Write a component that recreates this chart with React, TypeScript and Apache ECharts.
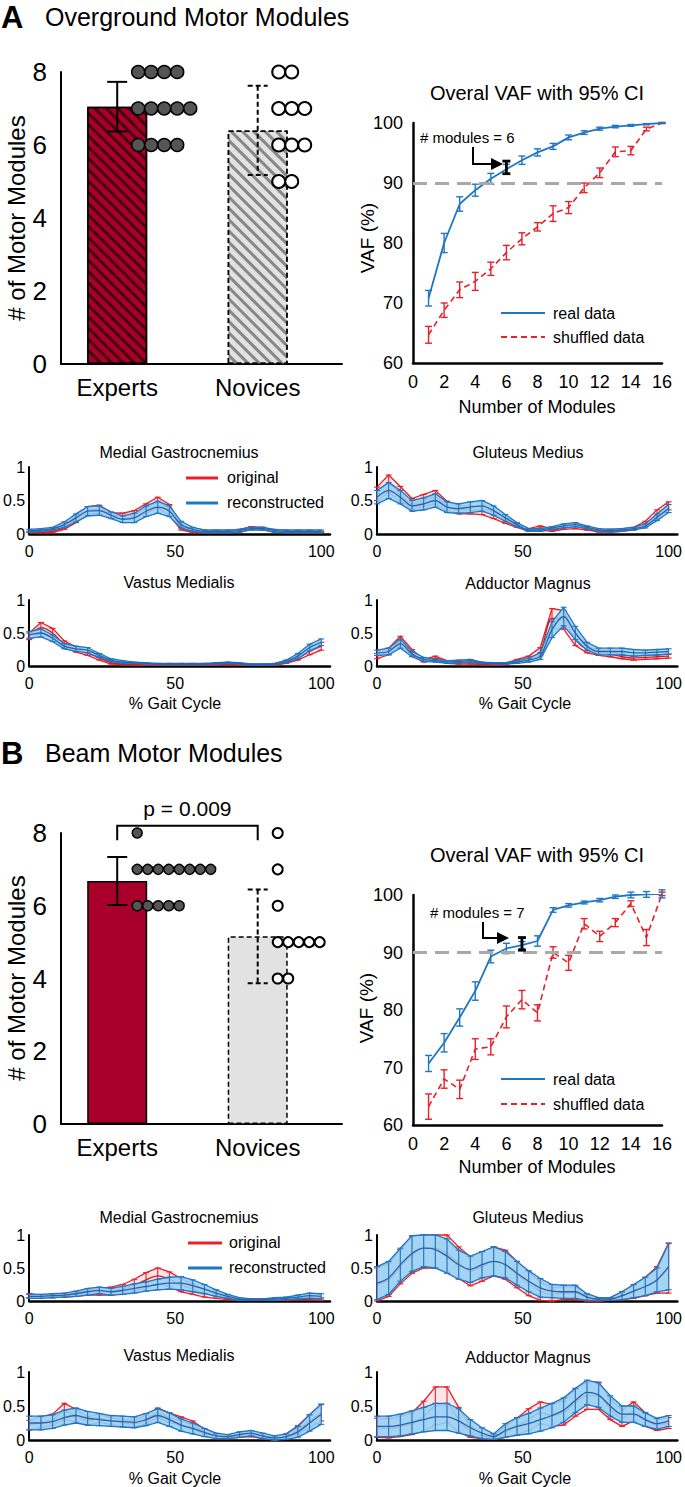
import React, { useEffect, useRef } from 'react';
import * as echarts from 'echarts';

const FONT = '"Liberation Sans", Arial, Helvetica, sans-serif';
const RED = '#e8202a';
const BLUE = '#1f77c4';
const CRIMSON = '#a8002a';

// ---------------- data ----------------
const groups = ['Experts', 'Novices'];
const groupPos = [1, 2];

const overgroundMean = [7.05, 6.4];
const overgroundErr = [0.68, 1.22];
const overgroundExperts = [8, 8, 8, 8, 7, 7, 7, 7, 7, 6, 6, 6, 6];
const overgroundNovices = [8, 8, 7, 7, 7, 6, 6, 6, 5, 5];

const beamMean = [6.68, 5.16];
const beamErr = [0.66, 1.29];
const beamExperts = [8, 7, 7, 7, 7, 7, 7, 7, 7, 6, 6, 6, 6, 6];
const beamNovices = [8, 7, 6, 5, 5, 5, 5, 5, 4, 4];
const beamPLabel = 'p = 0.009';

const moduleCounts = [1, 2, 3, 4, 5, 6, 7, 8, 9, 10, 11, 12, 13, 14, 15, 16];

const overgroundReal = [70.8, 80.0, 86.5, 88.8, 90.7, 92.3, 93.8, 95.1, 96.1, 97.6, 98.4, 99.05, 99.4, 99.6, 99.8, 100];
const overgroundRealCi = [1.3, 1.6, 1.2, 1.0, 0.9, 0.8, 0.7, 0.6, 0.5, 0.4, 0.3, 0.25, 0.2, 0.15, 0.1, 0.05];
const overgroundShuffled = [64.7, 68.8, 72.2, 73.6, 75.7, 78.4, 80.7, 82.7, 84.9, 85.9, 89.2, 91.7, 95.2, 95.4, 99.0, 100];
const overgroundShuffledCi = [1.4, 1.2, 1.3, 1.5, 1.1, 1.2, 1.0, 0.7, 1.3, 1.0, 0.8, 0.8, 0.8, 0.7, 0.3, 0.1];
const overgroundChosen = [6, 92.6, 1.05];

const beamReal = [70.7, 74.3, 78.7, 83.3, 89.3, 90.7, 91.3, 92.0, 97.4, 98.2, 98.7, 99.1, 99.7, 100.0, 100.1, 100.2];
const beamRealCi = [1.4, 1.6, 1.5, 1.6, 1.1, 0.9, 0.6, 0.9, 0.4, 0.3, 0.25, 0.3, 0.3, 0.5, 0.5, 0.7];
const beamShuffled = [63.2, 68.0, 66.2, 73.2, 73.6, 78.8, 81.8, 79.5, 90.0, 88.2, 95.0, 92.8, 95.2, 98.5, 92.6, 100.2];
const beamShuffledCi = [2.2, 1.6, 1.6, 1.8, 1.4, 1.9, 1.6, 1.4, 1.0, 1.3, 0.9, 0.9, 0.7, 0.5, 1.4, 0.3];
const beamChosen = [7, 91.5, 1.1];

const gaitPct = [0, 4, 8, 12, 16, 20, 24, 28, 32, 36, 40, 44, 48, 52, 56, 60, 64, 68, 72, 76, 80, 84, 88, 92, 96, 100];

// Overground
const ogMGOrig = [0.03, 0.03, 0.04, 0.10, 0.22, 0.35, 0.37, 0.28, 0.27, 0.30, 0.38, 0.47, 0.36, 0.10, 0.04, 0.03, 0.03, 0.03, 0.05, 0.09, 0.08, 0.04, 0.03, 0.03, 0.03, 0.03];
const ogMGOrigErr = [0.01, 0.01, 0.02, 0.03, 0.05, 0.06, 0.06, 0.04, 0.04, 0.05, 0.07, 0.08, 0.08, 0.04, 0.02, 0.01, 0.01, 0.01, 0.02, 0.02, 0.02, 0.01, 0.01, 0.01, 0.01, 0.01];
const ogMGRec = [0.05, 0.06, 0.08, 0.14, 0.24, 0.34, 0.35, 0.28, 0.22, 0.24, 0.34, 0.40, 0.34, 0.14, 0.07, 0.04, 0.04, 0.04, 0.05, 0.08, 0.08, 0.05, 0.04, 0.04, 0.04, 0.04];
const ogMGRecErr = [0.02, 0.02, 0.02, 0.04, 0.06, 0.07, 0.07, 0.05, 0.05, 0.07, 0.08, 0.09, 0.08, 0.05, 0.03, 0.02, 0.02, 0.02, 0.02, 0.02, 0.02, 0.02, 0.02, 0.02, 0.02, 0.02];

const ogGMOrig = [0.60, 0.75, 0.60, 0.45, 0.50, 0.55, 0.42, 0.36, 0.36, 0.35, 0.28, 0.20, 0.13, 0.06, 0.09, 0.06, 0.09, 0.11, 0.08, 0.05, 0.05, 0.06, 0.08, 0.15, 0.30, 0.42];
const ogGMOrigErr = [0.10, 0.13, 0.11, 0.08, 0.09, 0.10, 0.07, 0.06, 0.06, 0.06, 0.05, 0.04, 0.03, 0.02, 0.03, 0.02, 0.02, 0.03, 0.02, 0.02, 0.02, 0.02, 0.02, 0.04, 0.06, 0.06];
const ogGMRec = [0.55, 0.65, 0.55, 0.42, 0.45, 0.50, 0.40, 0.38, 0.40, 0.42, 0.35, 0.24, 0.14, 0.06, 0.06, 0.09, 0.12, 0.14, 0.10, 0.06, 0.05, 0.06, 0.08, 0.12, 0.25, 0.38];
const ogGMRecErr = [0.10, 0.12, 0.10, 0.08, 0.09, 0.10, 0.08, 0.07, 0.08, 0.08, 0.07, 0.05, 0.03, 0.02, 0.02, 0.02, 0.03, 0.03, 0.02, 0.02, 0.02, 0.02, 0.02, 0.03, 0.05, 0.06];

const ogVMOrig = [0.45, 0.58, 0.50, 0.33, 0.25, 0.20, 0.12, 0.05, 0.03, 0.02, 0.02, 0.02, 0.02, 0.02, 0.02, 0.02, 0.02, 0.03, 0.02, 0.02, 0.02, 0.02, 0.06, 0.12, 0.22, 0.30];
const ogVMOrigErr = [0.05, 0.08, 0.07, 0.05, 0.04, 0.04, 0.03, 0.02, 0.01, 0.01, 0.01, 0.01, 0.01, 0.01, 0.01, 0.01, 0.01, 0.01, 0.01, 0.01, 0.01, 0.01, 0.02, 0.03, 0.05, 0.06];
const ogVMRec = [0.47, 0.50, 0.42, 0.30, 0.26, 0.24, 0.16, 0.09, 0.06, 0.05, 0.04, 0.03, 0.03, 0.03, 0.03, 0.03, 0.04, 0.05, 0.04, 0.02, 0.02, 0.03, 0.07, 0.15, 0.28, 0.36];
const ogVMRecErr = [0.05, 0.06, 0.05, 0.04, 0.04, 0.04, 0.03, 0.02, 0.02, 0.01, 0.01, 0.01, 0.01, 0.01, 0.01, 0.01, 0.01, 0.01, 0.01, 0.01, 0.01, 0.01, 0.02, 0.04, 0.05, 0.05];

const ogAMOrig = [0.15, 0.22, 0.38, 0.20, 0.08, 0.12, 0.06, 0.05, 0.05, 0.03, 0.02, 0.03, 0.08, 0.12, 0.22, 0.72, 0.70, 0.40, 0.25, 0.20, 0.18, 0.14, 0.12, 0.13, 0.14, 0.15];
const ogAMOrigErr = [0.04, 0.05, 0.07, 0.05, 0.02, 0.03, 0.02, 0.02, 0.02, 0.01, 0.01, 0.01, 0.02, 0.03, 0.06, 0.15, 0.14, 0.09, 0.05, 0.04, 0.04, 0.03, 0.03, 0.03, 0.03, 0.03];
const ogAMRec = [0.20, 0.22, 0.34, 0.18, 0.10, 0.08, 0.06, 0.07, 0.08, 0.05, 0.04, 0.04, 0.06, 0.09, 0.15, 0.55, 0.75, 0.50, 0.30, 0.22, 0.22, 0.22, 0.20, 0.20, 0.21, 0.22];
const ogAMRecErr = [0.04, 0.05, 0.07, 0.04, 0.03, 0.02, 0.02, 0.02, 0.02, 0.01, 0.01, 0.01, 0.02, 0.03, 0.05, 0.12, 0.14, 0.10, 0.06, 0.05, 0.05, 0.05, 0.05, 0.04, 0.04, 0.04];

// Beam
const bmMGOrig = [0.08, 0.07, 0.07, 0.08, 0.10, 0.13, 0.14, 0.15, 0.18, 0.24, 0.32, 0.38, 0.33, 0.24, 0.18, 0.12, 0.08, 0.04, 0.02, 0.02, 0.02, 0.02, 0.02, 0.03, 0.04, 0.03];
const bmMGOrigErr = [0.03, 0.02, 0.02, 0.02, 0.03, 0.04, 0.05, 0.06, 0.07, 0.09, 0.11, 0.12, 0.11, 0.10, 0.08, 0.06, 0.04, 0.02, 0.01, 0.01, 0.01, 0.01, 0.01, 0.01, 0.02, 0.02];
const bmMGRec = [0.07, 0.07, 0.08, 0.09, 0.11, 0.14, 0.16, 0.14, 0.16, 0.19, 0.22, 0.25, 0.27, 0.27, 0.23, 0.18, 0.12, 0.07, 0.03, 0.02, 0.02, 0.03, 0.04, 0.06, 0.08, 0.07];
const bmMGRecErr = [0.03, 0.03, 0.03, 0.03, 0.04, 0.05, 0.05, 0.05, 0.06, 0.07, 0.07, 0.08, 0.09, 0.10, 0.09, 0.07, 0.05, 0.03, 0.02, 0.01, 0.01, 0.02, 0.02, 0.03, 0.04, 0.04];

const bmGMOrig = [0.25, 0.32, 0.52, 0.70, 0.80, 0.80, 0.72, 0.58, 0.45, 0.52, 0.60, 0.55, 0.40, 0.26, 0.15, 0.10, 0.12, 0.12, 0.05, 0.02, 0.03, 0.08, 0.14, 0.22, 0.32, 0.50];
const bmGMOrigErr = [0.25, 0.25, 0.26, 0.28, 0.30, 0.30, 0.28, 0.24, 0.22, 0.22, 0.22, 0.22, 0.20, 0.18, 0.14, 0.10, 0.10, 0.10, 0.05, 0.02, 0.02, 0.06, 0.10, 0.14, 0.20, 0.38];
const bmGMRec = [0.27, 0.35, 0.55, 0.72, 0.80, 0.78, 0.68, 0.55, 0.48, 0.55, 0.60, 0.55, 0.42, 0.30, 0.20, 0.15, 0.14, 0.14, 0.06, 0.03, 0.03, 0.08, 0.15, 0.22, 0.32, 0.52];
const bmGMRecErr = [0.25, 0.25, 0.25, 0.27, 0.28, 0.28, 0.26, 0.22, 0.20, 0.20, 0.22, 0.20, 0.18, 0.16, 0.14, 0.10, 0.10, 0.10, 0.05, 0.02, 0.02, 0.06, 0.10, 0.14, 0.18, 0.35];

const bmVMOrig = [0.22, 0.26, 0.30, 0.42, 0.36, 0.28, 0.32, 0.28, 0.25, 0.24, 0.30, 0.40, 0.33, 0.28, 0.22, 0.12, 0.06, 0.04, 0.06, 0.07, 0.04, 0.02, 0.06, 0.15, 0.28, 0.40];
const bmVMOrigErr = [0.07, 0.08, 0.08, 0.12, 0.09, 0.06, 0.06, 0.05, 0.05, 0.05, 0.06, 0.07, 0.07, 0.06, 0.06, 0.04, 0.03, 0.02, 0.02, 0.02, 0.02, 0.02, 0.03, 0.06, 0.09, 0.12];
const bmVMRec = [0.25, 0.25, 0.27, 0.33, 0.36, 0.32, 0.30, 0.28, 0.27, 0.26, 0.30, 0.36, 0.30, 0.22, 0.17, 0.11, 0.06, 0.05, 0.08, 0.10, 0.06, 0.03, 0.05, 0.12, 0.25, 0.38];
const bmVMRecErr = [0.10, 0.10, 0.10, 0.11, 0.11, 0.10, 0.09, 0.08, 0.08, 0.08, 0.09, 0.10, 0.10, 0.09, 0.08, 0.06, 0.04, 0.03, 0.04, 0.04, 0.04, 0.03, 0.04, 0.08, 0.12, 0.15];

const bmAMOrig = [0.18, 0.17, 0.20, 0.24, 0.35, 0.50, 0.52, 0.30, 0.12, 0.06, 0.04, 0.12, 0.20, 0.30, 0.40, 0.36, 0.40, 0.55, 0.65, 0.65, 0.45, 0.32, 0.42, 0.30, 0.22, 0.25];
const bmAMOrigErr = [0.14, 0.14, 0.15, 0.16, 0.22, 0.28, 0.26, 0.18, 0.08, 0.04, 0.03, 0.08, 0.12, 0.16, 0.16, 0.16, 0.18, 0.20, 0.20, 0.20, 0.15, 0.12, 0.14, 0.10, 0.08, 0.08];
const bmAMRec = [0.20, 0.20, 0.22, 0.26, 0.30, 0.34, 0.34, 0.28, 0.18, 0.10, 0.05, 0.14, 0.20, 0.24, 0.30, 0.36, 0.44, 0.58, 0.70, 0.66, 0.50, 0.38, 0.38, 0.30, 0.24, 0.28];
const bmAMRecErr = [0.15, 0.15, 0.16, 0.17, 0.18, 0.20, 0.20, 0.18, 0.12, 0.08, 0.04, 0.10, 0.13, 0.15, 0.17, 0.18, 0.18, 0.18, 0.18, 0.18, 0.15, 0.12, 0.12, 0.10, 0.08, 0.08];

// ---------------- layout ----------------
type Box = { left: number; top: number; width: number; height: number };
const LAYOUT: Box[] = [
  { left: 61, top: 72, width: 281, height: 292 },
  { left: 413, top: 123, width: 249, height: 240 },
  { left: 29, top: 467, width: 301, height: 67 },
  { left: 377, top: 467, width: 303, height: 67 },
  { left: 29, top: 600, width: 301, height: 66 },
  { left: 377, top: 600, width: 303, height: 66 },
  { left: 61, top: 833, width: 281, height: 291 },
  { left: 413, top: 895, width: 249, height: 230 },
  { left: 29, top: 1235, width: 301, height: 66 },
  { left: 377, top: 1235, width: 303, height: 66 },
  { left: 29, top: 1372, width: 301, height: 68 },
  { left: 377, top: 1372, width: 303, height: 68 },
];

const txt = { color: '#000', fontFamily: FONT };

function errorBarShapes(t: number[], b: number[], half: number, style: any) {
  return [
    { type: 'line', shape: { x1: t[0], y1: t[1], x2: b[0], y2: b[1] }, style },
    { type: 'line', shape: { x1: t[0] - half, y1: t[1], x2: t[0] + half, y2: t[1] }, style },
    { type: 'line', shape: { x1: b[0] - half, y1: b[1], x2: b[0] + half, y2: b[1] }, style },
  ];
}

function barAxes(i: number) {
  return {
    x: {
      type: 'value', gridIndex: i, min: 0.6, max: 2.6,
      axisLine: { show: true, onZero: false, lineStyle: { color: '#000', width: 2 } },
      axisTick: { show: false }, splitLine: { show: false },
      axisLabel: {
        ...txt, fontSize: 24, margin: 11, customValues: groupPos,
        formatter: (v: number) => {
          const k = groupPos.findIndex((p) => Math.abs(p - v) < 1e-6);
          return k >= 0 ? groups[k] : '';
        },
      },
    },
    y: {
      type: 'value', gridIndex: i, min: 0, max: 8, interval: 2,
      axisLine: { show: true, lineStyle: { color: '#000', width: 2 } },
      axisTick: { show: false }, splitLine: { show: false },
      axisLabel: { ...txt, fontSize: 26, margin: 14 },
    },
  };
}

function vafAxes(i: number) {
  return {
    x: {
      type: 'value', gridIndex: i, min: 0, max: 16, interval: 2,
      axisLine: { show: true, onZero: false, lineStyle: { color: '#000', width: 2.5 } },
      axisTick: { show: false }, splitLine: { show: false },
      axisLabel: { ...txt, fontSize: 18, margin: 10 },
    },
    y: {
      type: 'value', gridIndex: i, min: 60, max: 100, interval: 10,
      axisLine: { show: true, lineStyle: { color: '#000', width: 2.5 } },
      axisTick: { show: false }, splitLine: { show: false },
      axisLabel: { ...txt, fontSize: 18, margin: 10 },
    },
  };
}

function gaitAxes(i: number) {
  return {
    x: {
      type: 'value', gridIndex: i, min: 0, max: 103, interval: 50,
      axisLine: { show: true, onZero: false, lineStyle: { color: '#000', width: 2.5 } },
      axisTick: { show: false }, splitLine: { show: false },
      axisLabel: { ...txt, fontSize: 16, margin: 9, formatter: (v: number) => (v % 50 === 0 ? String(v) : '') },
    },
    y: {
      type: 'value', gridIndex: i, min: 0, max: 1, interval: 0.5,
      axisLine: { show: true, lineStyle: { color: '#000', width: 2 } },
      axisTick: { show: false }, splitLine: { show: false },
      axisLabel: { ...txt, fontSize: 16, margin: 4 },
    },
  };
}

function dotItems(values: number[], g: number) {
  const seen: Record<number, number> = {};
  return values.map((v) => {
    const r = seen[v] ?? 0;
    seen[v] = r + 1;
    return [groupPos[g], v, r, g];
  });
}

function barSeries(ax: number, means: number[], errs: number[], experts: number[], novices: number[], hatched: boolean, dotSize: number, spacing: number, offset: number) {
  const expStyle: any = { color: CRIMSON, borderColor: '#000', borderWidth: 1.5 };
  const novStyle: any = { color: '#e2e2e2', borderColor: '#000', borderWidth: 1.5, borderType: [5, 3] };
  if (hatched) {
    expStyle.decal = { symbol: 'rect', symbolSize: 1, color: 'rgba(55,0,12,0.85)', dashArrayX: [1, 0], dashArrayY: [3, 5], rotation: Math.PI / 4 };
    novStyle.decal = { symbol: 'rect', symbolSize: 1, color: 'rgba(125,125,125,0.9)', dashArrayX: [1, 0], dashArrayY: [3, 5], rotation: Math.PI / 4 };
  }
  return [
    { type: 'bar', xAxisIndex: ax, yAxisIndex: ax, barWidth: 60, barGap: '-100%', data: [[groupPos[0], means[0]]], itemStyle: expStyle, z: 2 },
    { type: 'bar', xAxisIndex: ax, yAxisIndex: ax, barWidth: 60, barGap: '-100%', data: [[groupPos[1], means[1]]], itemStyle: novStyle, z: 2 },
    {
      type: 'custom', xAxisIndex: ax, yAxisIndex: ax, z: 4,
      data: groupPos.map((x, i) => [x, means[i], errs[i], i]),
      renderItem: (_p: any, api: any) => {
        const x = api.value(0), m = api.value(1), e = api.value(2), g = api.value(3);
        const style: any = { stroke: '#000', lineWidth: 2 };
        if (g === 1) style.lineDash = [5, 3];
        return { type: 'group', children: errorBarShapes(api.coord([x, m + e]), api.coord([x, m - e]), 10, style) };
      },
    },
    {
      type: 'custom', xAxisIndex: ax, yAxisIndex: ax, z: 5,
      data: [...dotItems(experts, 0), ...dotItems(novices, 1)],
      renderItem: (_p: any, api: any) => {
        const c = api.coord([api.value(0), api.value(1)]);
        const r = api.value(2), g = api.value(3);
        return {
          type: 'circle',
          shape: { cx: c[0] + offset + r * spacing, cy: c[1], r: dotSize / 2 },
          style: g === 0 ? { fill: '#555', stroke: '#000', lineWidth: 1.5 } : { fill: '#fff', stroke: '#000', lineWidth: 2 },
        };
      },
    },
  ];
}

function vafSeries(ax: number, real: number[], realCi: number[], shuf: number[], shufCi: number[], chosen: number[]) {
  const bars = (vals: number[], ci: number[], stroke: string, z: number) => ({
    type: 'custom', xAxisIndex: ax, yAxisIndex: ax, z,
    data: moduleCounts.map((n, i) => [n, vals[i], ci[i]]),
    renderItem: (_p: any, api: any) => {
      const x = api.value(0), m = api.value(1), e = api.value(2);
      return { type: 'group', children: errorBarShapes(api.coord([x, m + e]), api.coord([x, m - e]), 3.5, { stroke, lineWidth: 1.4 }) };
    },
  });
  return [
    {
      type: 'line', xAxisIndex: ax, yAxisIndex: ax, z: 1, data: [], symbol: 'none',
      markLine: {
        silent: true, symbol: ['none', 'none'], label: { show: false },
        lineStyle: { color: '#a9a9a9', width: 3, type: [14, 8] },
        data: [{ yAxis: 90 }],
      },
    },
    { type: 'line', xAxisIndex: ax, yAxisIndex: ax, z: 3, symbol: 'none', data: moduleCounts.map((n, i) => [n, shuf[i]]), lineStyle: { color: RED, width: 1.6, type: [6, 4] } },
    bars(shuf, shufCi, RED, 3),
    { type: 'line', xAxisIndex: ax, yAxisIndex: ax, z: 4, symbol: 'none', data: moduleCounts.map((n, i) => [n, real[i]]), lineStyle: { color: BLUE, width: 1.8 } },
    bars(real, realCi, BLUE, 4),
    {
      type: 'custom', xAxisIndex: ax, yAxisIndex: ax, z: 6, data: [chosen],
      renderItem: (_p: any, api: any) => {
        const x = api.value(0), m = api.value(1), e = api.value(2);
        return { type: 'group', children: errorBarShapes(api.coord([x, m + e]), api.coord([x, m - e]), 4, { stroke: '#000', lineWidth: 2.8 }) };
      },
    },
  ];
}

function gaitSeries(ax: number, orig: number[], origErr: number[], rec: number[], recErr: number[]) {
  const clampV = (v: number) => Math.max(0, Math.min(1, v));
  const band = (mean: number[], err: number[], stroke: string, fill: string, z: number) => {
    const data = gaitPct.map((x, i) => [x, mean[i], err[i]]);
    return {
      type: 'custom', xAxisIndex: ax, yAxisIndex: ax, z, silent: true, data,
      renderItem: (params: any, api: any) => {
        const x = api.value(0), m = api.value(1), e = api.value(2);
        const children: any[] = errorBarShapes(api.coord([x, clampV(m + e)]), api.coord([x, clampV(m - e)]), 3, { stroke, lineWidth: 1.1 });
        if (params.dataIndex === 0) {
          const up = data.map((d) => api.coord([d[0], clampV(d[1] + d[2])]));
          const lo = data.map((d) => api.coord([d[0], clampV(d[1] - d[2])]));
          children.unshift(
            { type: 'polygon', shape: { points: up.concat(lo.slice().reverse()) }, style: { fill } },
            { type: 'polyline', shape: { points: up }, style: { stroke, fill: 'none', lineWidth: 1.3 } },
            { type: 'polyline', shape: { points: lo }, style: { stroke, fill: 'none', lineWidth: 1.3 } },
          );
        }
        return { type: 'group', children };
      },
    };
  };
  const line = (mean: number[], color: string, z: number) => ({
    type: 'line', xAxisIndex: ax, yAxisIndex: ax, z, silent: true, symbol: 'none', smooth: 0.3,
    data: gaitPct.map((x, i) => [x, mean[i]]), lineStyle: { color, width: 1.3 },
  });
  return [
    band(orig, origErr, RED, 'rgba(240,110,115,0.18)', 2),
    line(orig, '#c8202a', 3),
    band(rec, recErr, BLUE, 'rgba(150,210,245,0.88)', 4),
    line(rec, '#2a62a8', 5),
  ];
}

function text(x: number, y: number, s: string, size: number, extra: any = {}) {
  return {
    type: 'text', x, y, rotation: extra.rotation || 0, silent: true,
    style: { text: s, fontSize: size, fontFamily: FONT, fill: '#000', align: extra.align || 'center', verticalAlign: 'middle', fontWeight: extra.weight || 'normal' },
  };
}
function seg(x1: number, y1: number, x2: number, y2: number, stroke: string, w: number, dash?: number[]) {
  const style: any = { stroke, lineWidth: w };
  if (dash) style.lineDash = dash;
  return { type: 'line', silent: true, shape: { x1, y1, x2, y2 }, style };
}
function arrow(x0: number, y0: number, yc: number, xTip: number) {
  return [
    { type: 'polyline', silent: true, shape: { points: [[x0, y0], [x0, yc], [xTip - 11, yc]] }, style: { stroke: '#000', lineWidth: 2, fill: 'none' } },
    { type: 'polygon', silent: true, shape: { points: [[xTip - 12, yc - 6], [xTip, yc], [xTip - 12, yc + 6]] }, style: { fill: '#000' } },
  ];
}

function buildOption() {
  const xAxis: any[] = [];
  const yAxis: any[] = [];
  const kinds = ['bar', 'vaf', 'gait', 'gait', 'gait', 'gait', 'bar', 'vaf', 'gait', 'gait', 'gait', 'gait'];
  kinds.forEach((k, i) => {
    const a = k === 'bar' ? barAxes(i) : k === 'vaf' ? vafAxes(i) : gaitAxes(i);
    xAxis.push(a.x);
    yAxis.push(a.y);
  });

  const series: any[] = [
    ...barSeries(0, overgroundMean, overgroundErr, overgroundExperts, overgroundNovices, true, 13, 13, 21),
    ...vafSeries(1, overgroundReal, overgroundRealCi, overgroundShuffled, overgroundShuffledCi, overgroundChosen),
    ...gaitSeries(2, ogMGOrig, ogMGOrigErr, ogMGRec, ogMGRecErr),
    ...gaitSeries(3, ogGMOrig, ogGMOrigErr, ogGMRec, ogGMRecErr),
    ...gaitSeries(4, ogVMOrig, ogVMOrigErr, ogVMRec, ogVMRecErr),
    ...gaitSeries(5, ogAMOrig, ogAMOrigErr, ogAMRec, ogAMRecErr),
    ...barSeries(6, beamMean, beamErr, beamExperts, beamNovices, false, 10, 10.5, 20),
    {
      type: 'custom', xAxisIndex: 6, yAxisIndex: 6, z: 6, data: [[groupPos[0], groupPos[1]]],
      renderItem: (_p: any, api: any) => {
        const a2 = api.coord([api.value(0), 7.8]);
        const a = api.coord([api.value(0), 8.2]);
        const b = api.coord([api.value(1), 8.2]);
        const b2 = api.coord([api.value(1), 7.8]);
        return {
          type: 'group',
          children: [
            { type: 'polyline', shape: { points: [a2, a, b, b2] }, style: { stroke: '#000', lineWidth: 2, fill: 'none' } },
            { type: 'text', style: { text: beamPLabel, x: (a[0] + b[0]) / 2, y: a[1] - 17, align: 'center', verticalAlign: 'middle', fontSize: 21, fontFamily: FONT, fill: '#000' } },
          ],
        };
      },
    },
    ...vafSeries(7, beamReal, beamRealCi, beamShuffled, beamShuffledCi, beamChosen),
    ...gaitSeries(8, bmMGOrig, bmMGOrigErr, bmMGRec, bmMGRecErr),
    ...gaitSeries(9, bmGMOrig, bmGMOrigErr, bmGMRec, bmGMRecErr),
    ...gaitSeries(10, bmVMOrig, bmVMOrigErr, bmVMRec, bmVMRecErr),
    ...gaitSeries(11, bmAMOrig, bmAMOrigErr, bmAMRec, bmAMRecErr),
  ];

  const graphic: any[] = [
    text(1, 17, 'A', 31, { align: 'left', weight: 'bold' }),
    text(45, 17, 'Overground Motor Modules', 25, { align: 'left' }),
    text(1, 753, 'B', 31, { align: 'left', weight: 'bold' }),
    text(45, 753, 'Beam Motor Modules', 25, { align: 'left' }),
    text(16, 218, '# of Motor Modules', 24, { rotation: Math.PI / 2 }),
    text(16, 978, '# of Motor Modules', 24, { rotation: Math.PI / 2 }),
    text(537, 93, 'Overal VAF with 95% CI', 20),
    text(537, 855, 'Overal VAF with 95% CI', 20),
    text(367, 238, 'VAF (%)', 19, { rotation: Math.PI / 2 }),
    text(366, 1008, 'VAF (%)', 19, { rotation: Math.PI / 2 }),
    text(537, 407, 'Number of Modules', 18),
    text(537, 1167, 'Number of Modules', 18),
    text(420, 137, '# modules = 6', 15, { align: 'left' }),
    ...arrow(473, 147, 164, 503),
    text(430, 912, '# modules = 7', 15, { align: 'left' }),
    ...arrow(483, 922, 938, 509),
    seg(501, 313, 545, 313, BLUE, 1.8),
    text(553, 313, 'real data', 16, { align: 'left' }),
    seg(501, 337, 545, 337, RED, 1.8, [6, 4]),
    text(553, 337, 'shuffled data', 16, { align: 'left' }),
    seg(501, 1079, 545, 1079, BLUE, 1.8),
    text(553, 1079, 'real data', 16, { align: 'left' }),
    seg(501, 1104, 545, 1104, RED, 1.8, [6, 4]),
    text(553, 1104, 'shuffled data', 16, { align: 'left' }),
    text(179, 452, 'Medial Gastrocnemius', 16),
    text(528, 452, 'Gluteus Medius', 16),
    text(179, 582, 'Vastus Medialis', 16),
    text(528, 583, 'Adductor Magnus', 16),
    text(175, 703, '% Gait Cycle', 16),
    text(525, 703, '% Gait Cycle', 16),
    text(179, 1217, 'Medial Gastrocnemius', 16),
    text(528, 1217, 'Gluteus Medius', 16),
    text(179, 1355, 'Vastus Medialis', 16),
    text(528, 1357, 'Adductor Magnus', 16),
    text(175, 1478, '% Gait Cycle', 16),
    text(525, 1478, '% Gait Cycle', 16),
    seg(186, 478, 218, 478, RED, 3),
    text(227, 477, 'original', 16, { align: 'left' }),
    seg(186, 503, 218, 503, BLUE, 3),
    text(227, 502, 'reconstructed', 16, { align: 'left' }),
    seg(188, 1243, 222, 1243, RED, 3),
    text(229, 1242, 'original', 16, { align: 'left' }),
    seg(188, 1268, 222, 1268, BLUE, 3),
    text(229, 1267, 'reconstructed', 16, { align: 'left' }),
  ];

  return {
    animation: false,
    backgroundColor: '#fff',
    textStyle: { fontFamily: FONT },
    grid: LAYOUT.map((b) => ({ ...b, containLabel: false })),
    xAxis,
    yAxis,
    series,
    graphic,
  };
}

export default function App() {
  const ref = useRef<HTMLDivElement>(null);
  useEffect(() => {
    document.body.style.margin = '0';
    const chart = echarts.init(ref.current as HTMLDivElement, null, { renderer: 'svg' });
    chart.setOption(buildOption() as any);
    return () => chart.dispose();
  }, []);
  return <div ref={ref} style={{ width: 685, height: 1487 }} />;
}
